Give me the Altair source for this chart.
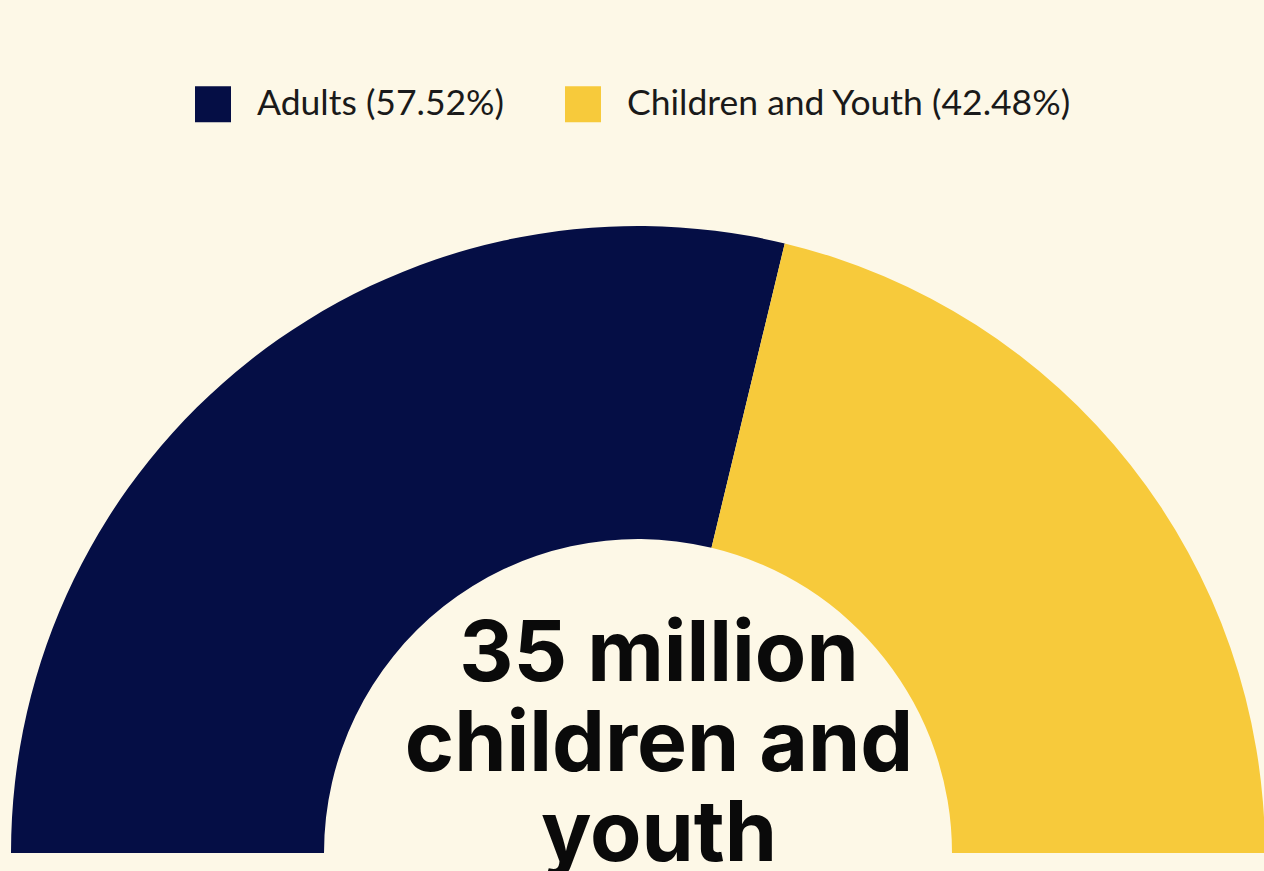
import altair as alt
import pandas as pd

categories = ["Adults (57.52%)", "Children and Youth (42.48%)"]
shares = [57.52, 42.48]
colors = ["#050E45", "#F7CA3B"]
center_lines = ["35 million", "children and", "youth"]

df = pd.DataFrame({"group": categories, "share": shares, "order": [0, 1]})

HALF_PI = 1.5707963267948966

arc = alt.Chart(df).mark_arc(
    outerRadius=627, innerRadius=314, stroke=None
).encode(
    theta=alt.Theta("share:Q", stack=True,
                    scale=alt.Scale(range=[-HALF_PI, HALF_PI], domain=[0, 100])),
    order=alt.Order("order:Q"),
    color=alt.Color(
        "group:N",
        scale=alt.Scale(domain=categories, range=colors),
        legend=alt.Legend(
            title=None, orient="none", direction="horizontal",
            legendX=195, legendY=86,
            symbolType="square", symbolSize=1296, symbolStrokeWidth=0,
            symbolOpacity=1,
            labelFont="Lato", labelFontSize=35.5, labelColor="#1a1a1a",
            labelOffset=26, columnPadding=60, labelLimit=700,
        ),
    ),
    x=alt.value(638),
    y=alt.value(853),
)

txt = alt.Chart(pd.DataFrame({"t": [center_lines]})).mark_text(
    font="Inter", fontWeight="bold", fontSize=84, lineHeight=90,
    baseline="alphabetic", align="center", color="#0a0a0a",
).encode(
    text="t",
    x=alt.value(659),
    y=alt.value(681),
)

chart = alt.layer(arc, txt).properties(
    width=1264, height=871, background="#FDF8E7",
    autosize=alt.AutoSizeParams(type="none"), padding=0,
).configure_view(stroke=None)

chart.save("out.html", embed_options={"renderer": "svg", "actions": False})
